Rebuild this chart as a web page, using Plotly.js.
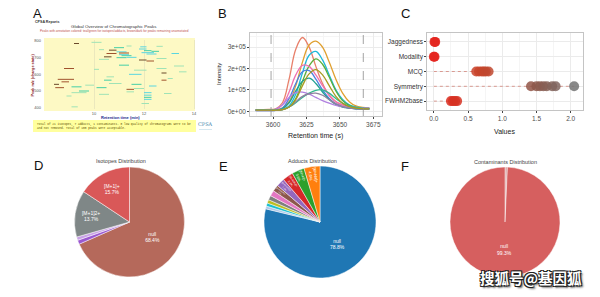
<!DOCTYPE html>
<html><head><meta charset="utf-8">
<script src="https://cdn.plot.ly/plotly-3.0.1.min.js"></script>
<style>html,body{margin:0;padding:0;background:#fff}#chart{width:600px;height:297px}</style>
</head><body><div id="chart"></div>
<script>
// ---------- Panel A: global overview of chromatographic peaks ----------
const aRtStart = [9.2,9.9,11.3,11.85,12.5,11.8,12.0,11.9,12.3,12.1,10.6,10.5,11.0,10.2,10.9,11.3,10.2,11.8,12.1,12.5,13.1,13.2,8.8,10.0,11.0,11.6,11.4,12.5,12.7,10.5,10.4,12.7,12.95,13.4,8.55,8.7,8.4,8.45,9.1,9.65,10.1,10.6,11.3,11.6,11.5,12.2,9.1,8.9,9.4,10.2,12.0,12.0,12.0,12.0,12.8,11.3,9.1,11.9,10.8,10.9,11.0,11.1,10.4];
const aRtEnd   = [9.4,10.3,11.5,12.1,12.75,12.1,12.3,12.4,12.6,12.5,10.9,10.9,11.4,10.4,11.3,11.7,10.6,12.1,12.4,12.9,13.4,13.6,9.2,10.2,11.4,12.1,11.9,12.9,12.9,10.8,10.7,12.9,13.15,13.7,9.2,9.0,8.6,8.8,9.5,10.0,10.5,11.1,11.6,12.0,11.9,12.5,9.7,9.1,9.8,10.6,12.3,12.3,12.3,12.3,13.1,11.6,9.35,12.2,11.2,11.3,11.4,11.5,10.7];
const aMz      = [785,792,770,765,768,752,742,730,738,722,745,725,728,748,700,702,690,686,680,695,725,650,635,630,655,625,600,635,608,585,565,565,575,615,570,555,540,520,525,535,520,545,510,515,540,530,490,470,500,480,490,475,462,450,485,495,405,425,760,735,718,712,705];
const aGroup   = ['dark','light','light','cyan','light','cyan','teal','cyan','teal','cyan','dark','brown','brown','light','teal','cyan','light','dark','brown','light','cyan','light','brown','light','teal','light','cyan','light','dark','light','teal','brown','light','light','brown','brown','dark','brown','teal','light','teal','light','brown','light','teal','cyan','light','light','teal','light','cyan','cyan','teal','cyan','light','light','light','light','teal','cyan','cyan','teal','dark'];
const aGroupNames = ['light','teal','cyan','brown','dark'];
const aYTicks = [400,500,600,700,800];
const aXTicks = [10,12,14];

// ---------- Panel B: extracted ion chromatograms ----------
const bTime = [3587,3592,3597,3602,3607,3612,3617,3622,3627,3632,3637,3642,3647,3652,3657,3662,3667,3672];
const bPeak1  = [8000,8000,9000,12000,40000,150000,290000,345000,300000,210000,130000,75000,45000,30000,22000,18000,15000,14000];
const bPeak2  = [8000,8000,8000,9000,15000,45000,120000,230000,310000,328000,300000,230000,150000,85000,45000,25000,18000,15000];
const bPeak3  = [5000,5000,5000,5000,8000,25000,80000,180000,262000,280000,240000,170000,100000,55000,30000,20000,15000,14000];
const bPeak4  = [5000,5000,5000,6000,8000,20000,60000,140000,212000,245000,220000,160000,95000,50000,28000,18000,14000,12000];
const bPeak5  = [5000,5000,6000,8000,30000,90000,170000,215000,210000,170000,120000,75000,45000,30000,22000,18000,16000,15000];
const bPeak6  = [3000,3000,3000,4000,15000,60000,130000,185000,190000,150000,100000,60000,35000,22000,15000,12000,10000,10000];
const bPeak7  = [5000,5000,5000,6000,12000,40000,95000,140000,155000,130000,90000,55000,32000,20000,15000,12000,11000,10000];
const bPeak8  = [5000,5000,6000,10000,30000,65000,88000,90000,80000,65000,50000,38000,28000,22000,18000,16000,15000,15000];
const bPeak9  = [5000,5000,5000,6000,10000,20000,40000,65000,85000,98000,100000,85000,60000,38000,24000,18000,15000,14000];
const bPeak10 = [3000,3000,3000,4000,8000,20000,45000,70000,82000,85000,75000,55000,35000,22000,15000,12000,10000,10000];
const bPeak11 = [5000,5000,5000,5000,8000,20000,55000,120000,175000,195000,170000,120000,70000,38000,22000,15000,12000,11000];
const bSeries = [bPeak1,bPeak2,bPeak3,bPeak4,bPeak5,bPeak6,bPeak7,bPeak8,bPeak9,bPeak10,bPeak11];
const bColors = ['#E8806B','#E0A030','#1FB8D8','#5AAE3A','#F070B0','#4C7FE0','#20A090','#B080E0','#30B890','#9080A0','#A89A20'];
const bWindow = [3598.5,3667.5];
const bYTicks = [0,100000,200000,300000];
const bYTickText = ['0e+00','1e+05','2e+05','3e+05'];

// ---------- Panel C: peak quality metrics ----------
const cCategories = ['Jaggedness','Modality','MCQ','Symmetry','FWHM2base'];
const cMetric = ['Jaggedness','Jaggedness','Modality','Modality','MCQ','MCQ','MCQ','MCQ','MCQ','MCQ','Symmetry','Symmetry','Symmetry','Symmetry','Symmetry','Symmetry','Symmetry','Symmetry','FWHM2base','FWHM2base','FWHM2base','FWHM2base'];
const cValue  = [0.01,0.02,0.0,0.01,0.62,0.66,0.70,0.73,0.76,0.80,1.42,1.50,1.55,1.60,1.65,1.73,1.78,2.05,0.25,0.28,0.31,0.34];

// ---------- Panels D, E, F: pies ----------
const dLabels = ['null','[M+3]+','[M+2]+','[M+1]2+','[M+1]+'];
const dValues = [68.4,1.2,1.0,13.7,15.7];
const dColors = ['#B5695B','#9B59D0','#C9A3E6','#7F8787','#D95858'];
const eLabels = ['null','[M+2K-H]+','[M+DMSO+H]+','[M+IsoProp+H]+','[M+CH3OH+H]+','[M+2Na-H]+','[M+ACN+H]+','[M+H-H2O]+','[M+NH4]+','[M+K]+','[M+Na]+'];
const eValues = [78.8,0.8,0.9,1.0,1.3,1.6,1.9,2.4,3.1,3.6,4.6];
const eColors = ['#1F77B4','#AEC7E8','#17BECF','#BCBD22','#7F7F7F','#E377C2','#8C564B','#9467BD','#D62728','#2CA02C','#FF7F0E'];
const fLabels = ['Polysiloxane','null'];
const fValues = [0.7,99.3];
const fColors = ['#D9A0A0','#D65F5F'];

// ================= build traces =================
const W = 600, H = 297;
const px = v => v / W;
const py = v => 1 - v / H;
const FONT = 'Liberation Sans, Arial, sans-serif';
const aColorMap = {light:'#9FE3B6', teal:'#45CFA6', cyan:'#5AD6E0', brown:'#A0522D', dark:'#6B4A2B'};

const traces = [];
aGroupNames.forEach(g => {
  const xs = [], ys = [];
  for (let i = 0; i < aMz.length; i++) {
    if (aGroup[i] !== g) continue;
    xs.push(aRtStart[i], aRtEnd[i], null);
    ys.push(aMz[i], aMz[i], null);
  }
  traces.push({type:'scatter', mode:'lines', x:xs, y:ys, xaxis:'x', yaxis:'y',
    line:{color:aColorMap[g], width:1}, hoverinfo:'skip'});
});

bSeries.forEach((s, i) => {
  traces.push({type:'scatter', mode:'lines', x:bTime, y:s, xaxis:'x2', yaxis:'y2',
    line:{color:bColors[i], width:1.3, shape:'spline', smoothing:1.1}, name:'Peak '+(i+1)});
});

// dotted segments 0 -> max per category
const segX = [], segY = [];
cCategories.forEach(c => {
  const vals = cValue.filter((v, i) => cMetric[i] === c);
  const mx = Math.max(...vals);
  segX.push(0, mx, null); segY.push(c, c, null);
});
traces.push({type:'scatter', mode:'lines', x:segX, y:segY, xaxis:'x3', yaxis:'y3',
  line:{color:'#D99A92', width:1, dash:'dot'}, hoverinfo:'skip'});
traces.push({type:'scatter', mode:'markers', x:cValue, y:cMetric, xaxis:'x3', yaxis:'y3',
  marker:{size:10, color:cValue, cmin:0, cmax:2.05, showscale:false, opacity:0.85,
    colorscale:[[0,'#E4211C'],[0.33,'#C8452A'],[0.72,'#8E5648'],[1,'#737373']], line:{width:0}}});

function pie(labels, values, colors, cx, cy, r, show) {
  return {type:'pie', labels, values, sort:false, direction:'clockwise', rotation:0,
    marker:{colors, line:{color:'rgba(255,255,255,0.8)', width:0.6}},
    domain:{x:[px(cx-r), px(cx+r)], y:[py(cy+r), py(cy-r)]},
    texttemplate: labels.map((l, i) => show[i] ? '%{label}<br>%{percent}' : ''),
    textposition:'inside', insidetextorientation:'horizontal',
    textfont:{size:5, color:'#ffffff', family:FONT}, hoverinfo:'label+percent', showlegend:false};
}
traces.push(pie(dLabels, dValues, dColors, 129.5, 222, 55, [1,0,0,1,1]));
const ep = pie(eLabels, eValues, eColors, 320, 222, 56, eLabels.map((l,i)=> i===0 || eValues[i] >= 1.9));
ep.insidetextorientation = 'auto';
traces.push(ep);
const fp = pie(fLabels, fValues, fColors, 505, 222, 55, [0,1]);
fp.direction = 'counterclockwise';
traces.push(fp);

// ================= layout =================
const gridC = '#EBEBEB';
const layout = {
  width:W, height:H, margin:{l:0,r:0,t:0,b:0}, paper_bgcolor:'#ffffff', plot_bgcolor:'rgba(0,0,0,0)',
  showlegend:false, font:{family:FONT, color:'#333'},
  xaxis:{domain:[px(44),px(195)], range:[8,14.04], anchor:'y', tickvals:aXTicks, ticks:'',
    tickfont:{size:4, color:'#555'}, showgrid:true, gridcolor:'rgba(190,190,170,0.45)', gridwidth:0.6,
    zeroline:false, showline:false, ticklabelstandoff:1},
  yaxis:{domain:[py(109),py(40)], range:[392,806], anchor:'x', tickvals:aYTicks, ticks:'',
    tickfont:{size:4, color:'#555'}, showgrid:false, zeroline:false, showline:false, ticklabelstandoff:2},
  xaxis2:{domain:[px(250),px(382)], range:[3582.75,3681.5], anchor:'y2', tick0:3600, dtick:25,
    ticks:'outside', ticklen:2, tickcolor:'#444', tickfont:{size:6.5, color:'#4D4D4D'},
    showline:true, mirror:true, linecolor:'#B5B5B5', linewidth:0.8, showgrid:true, gridcolor:gridC,
    minor:{dtick:12.5, tick0:3587.5, showgrid:true, gridcolor:'#F5F5F5'}, zeroline:false},
  yaxis2:{domain:[py(116),py(33)], range:[-22000,366000], anchor:'x2', tickvals:bYTicks, ticktext:bYTickText,
    ticks:'outside', ticklen:2, tickcolor:'#444', tickfont:{size:6.5, color:'#4D4D4D'},
    showline:true, mirror:true, linecolor:'#B5B5B5', linewidth:0.8, showgrid:true, gridcolor:gridC,
    minor:{tickvals:[50000,150000,250000,350000], showgrid:true, gridcolor:'#F5F5F5'}, zeroline:false},
  xaxis3:{domain:[px(427),px(583)], range:[-0.1,2.18], anchor:'y3', tick0:0, dtick:0.5, tickformat:'.1f',
    ticks:'outside', ticklen:2, tickcolor:'#444', tickfont:{size:6.5, color:'#4D4D4D'},
    showline:true, mirror:true, linecolor:'#B5B5B5', linewidth:0.8, showgrid:true, gridcolor:gridC,
    minor:{dtick:0.25, tick0:0.25, showgrid:true, gridcolor:'#F5F5F5'}, zeroline:false},
  yaxis3:{domain:[py(110),py(33)], type:'category', categoryorder:'array', categoryarray:cCategories,
    range:[4.6,-0.6], anchor:'x3', ticks:'outside', ticklen:2, tickcolor:'#444',
    tickfont:{size:6.5, color:'#333'}, showline:true, mirror:true, linecolor:'#B5B5B5', linewidth:0.8,
    showgrid:true, gridcolor:gridC, zeroline:false},
  shapes:[
    {type:'rect', xref:'x domain', yref:'y domain', x0:0, x1:1, y0:-0.03, y1:1.03, layer:'below',
      fillcolor:'#FDF9C4', line:{width:0}},
    {type:'rect', xref:'paper', yref:'paper', x0:px(33), x1:px(196), y0:py(132), y1:py(120), layer:'below',
      fillcolor:'#FFFF9E', line:{width:0}},
    {type:'line', xref:'paper', yref:'paper', x0:px(199), x1:px(212), y0:py(129.5), y1:py(129.5),
      line:{color:'#B8D6E6', width:0.6}},
    ...bWindow.map(v => ({type:'line', xref:'x2', yref:'y2 domain', x0:v, x1:v, y0:0, y1:1,
      line:{color:'#8C8C8C', width:0.8, dash:'dash'}, layer:'above'}))
  ],
  annotations:[]
};
const ann = (text, x, y, o) => layout.annotations.push(Object.assign({text, xref:'paper', yref:'paper',
  x:px(x), y:py(y), showarrow:false, xanchor:'center', yanchor:'middle', font:{family:FONT, size:6, color:'#333'}}, o||{}));

// panel letters
[['A',37,13],['B',222,13],['C',405,13],['D',38,165],['E',223,166],['F',405,166]].forEach(l =>
  ann(l[0], l[1], l[2], {font:{family:FONT, size:13, color:'#111'}}));

// panel A texts
ann('<b>CPSA Reports</b>', 33, 22, {xanchor:'left', font:{family:FONT, size:3.6, color:'#333'}});
ann('Global Overview of Chromatographic Peaks', 114, 26.5, {font:{family:FONT, size:4.4, color:'#333'}});
ann('Peaks with annotation colored: teal/green for isotopes/adducts, brown/dark for peaks remaining unannotated', 114, 30.5,
  {font:{family:FONT, size:3.1, color:'#C0504D'}});
ann('<b>Peak m/z (charge state)</b>', 32.5, 75, {textangle:-90, font:{family:FONT, size:3.8, color:'#8B1A1A'}});
ann('<b>Retention time (min)</b>', 120, 117, {font:{family:FONT, size:4, color:'#1A2A8C'}});
ann('Total of 21 isotopes, 7 adducts, 1 contaminants. 0 low quality of chromatograms were to be', 34.5, 123.5,
  {xanchor:'left', font:{family:'Liberation Mono, monospace', size:2.85, color:'#5A4A00'}});
ann('and not removed. Total of 100 peaks were acceptable.', 34.5, 128,
  {xanchor:'left', font:{family:'Liberation Mono, monospace', size:2.85, color:'#5A4A00'}});
ann('CPSA', 205.5, 124.5, {font:{family:'DejaVu Serif, serif', size:5, color:'#4A8BB0'}});

// panel B texts
ann('Intensity', 219, 74, {textangle:-90, font:{family:FONT, size:6, color:'#222'}});
ann('Retention time (s)', 316, 136, {font:{family:FONT, size:7, color:'#222'}});
// panel C texts
ann('Values', 504, 131, {font:{family:FONT, size:7, color:'#222'}});
// pie titles
ann('Isotopes Distribution', 121, 161, {font:{family:FONT, size:5.5, color:'#444'}});
ann('Adducts Distribution', 313, 160.5, {font:{family:FONT, size:5.5, color:'#444'}});
ann('Contaminants Distribution', 505, 161.5, {font:{family:FONT, size:5.5, color:'#444'}});
// watermark
ann('<b>搜狐号@基因狐</b>', 531, 277, {font:{family:'Noto Sans CJK SC, sans-serif', size:14.5, color:'#ffffff',
  shadow:'1px 1px 0 #222, -1px -1px 0 #222, 1px -1px 0 #222, -1px 1px 0 #222, 2px 2px 2px #555'}});

Plotly.newPlot('chart', traces, layout, {staticPlot:true, displayModeBar:false});
</script></body></html>
